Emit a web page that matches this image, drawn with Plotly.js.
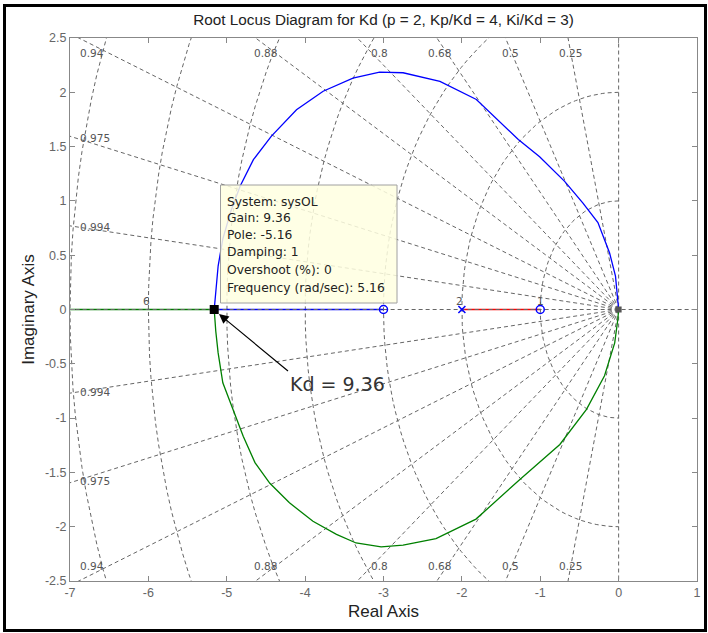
<!DOCTYPE html>
<html><head><meta charset="utf-8">
<script src="https://cdn.plot.ly/plotly-3.0.1.min.js"></script>
<style>
html,body{margin:0;padding:0;background:#fff;}
#chart{width:708px;height:633px;}
#frame{position:absolute;left:3px;top:4px;width:704px;height:628px;border:3px solid #000;box-sizing:border-box;pointer-events:none;}
</style>
</head><body><div id="chart"></div><div id="frame"></div>
<script>
// ---- data ----
const xTicks=[-7,-6,-5,-4,-3,-2,-1,0,1];
const xTickLabels=['-7','-6','-5','-4','-3','-2','-1','0','1'];
const yTicks=[-2.5,-2,-1.5,-1,-0.5,0,0.5,1,1.5,2,2.5];
const yTickLabels=['-2.5','-2','-1.5','-1','-0.5','0','0.5','1','1.5','2','2.5'];

// upper complex branch (blue), from origin to breakaway point
const upperX=[0,-0.01,-0.04,-0.115,-0.264,-0.455,-0.689,-1.008,-1.28,-1.815,-2.28,-2.75,-3.05,-3.39,-3.77,-4.11,-4.43,-4.66,-4.83,-4.95,-5.05,-5.11,-5.14,-5.16];
const upperY=[0,0.09,0.307,0.52,0.80,0.98,1.18,1.406,1.565,1.934,2.10,2.18,2.185,2.13,2.01,1.84,1.596,1.38,1.135,0.90,0.65,0.40,0.18,0];
// lower complex branch (green)
const lowerX=[0,-0.01,-0.05,-0.18,-0.41,-0.75,-1.26,-1.82,-2.33,-2.75,-3.03,-3.35,-3.60,-3.90,-4.20,-4.45,-4.64,-4.79,-4.92,-5.05,-5.11,-5.14,-5.16];
const lowerY=[0,-0.09,-0.307,-0.61,-0.92,-1.243,-1.565,-1.93,-2.11,-2.17,-2.185,-2.15,-2.07,-1.95,-1.78,-1.60,-1.41,-1.167,-0.92,-0.675,-0.40,-0.20,0];
// real-axis segments
const blueRealX=[-5.16,-3];
const greenRealX=[-5.16,-7.5];
const redRealX=[-2,-1];
const polesX=[-2];
const originPoleX=[0];
const zerosX=[-3,-1];
const gainPointX=[-5.16];
const gainPointY=[0];
const gainValue='9.36';
const tooltipLines=['System: sysOL','Gain: 9.36','Pole: -5.16','Damping: 1','Overshoot (%): 0','Frequency (rad/sec): 5.16'];

// s-grid
const zetaValues=[0.25,0.5,0.68,0.8,0.88,0.94,0.975,0.994];
const zetaEdgeLabels=['0.94','0.88','0.8','0.68','0.5','0.25'];
const zetaSideLabels=['0.975','0.994'];
const wnValues=[1,2,3,4,5,6,7];
const wnLabels=['6','2','1'];

// ---- layout helpers (pixel -> data) ----
const L=70,R=697,T=38,B=581;
const px2x=p=>-7+(p-L)/(R-L)*8;
const py2y=p=>2.5-(p-T)/(B-T)*5;

const gridColor='#666666';
const gridDash='4px,3px';
const gx=[],gy=[];
zetaValues.forEach(z=>{const s=Math.sqrt(1-z*z);gx.push(0,-20*z,null,0,-20*z,null);gy.push(0,20*s,null,0,-20*s,null);});
gx.push(0,0,null);gy.push(-5,5,null);
wnValues.forEach(w=>{for(let a=90;a<=270;a+=2){const r=a*Math.PI/180;gx.push(w*Math.cos(r));gy.push(w*Math.sin(r));}gx.push(null);gy.push(null);});

const traces=[
 {x:gx,y:gy,mode:'lines',line:{color:gridColor,width:1,dash:gridDash},hoverinfo:'skip'},
 {x:upperX,y:upperY,mode:'lines',line:{color:'#0000ff',width:1.3}},
 {x:lowerX,y:lowerY,mode:'lines',line:{color:'#008000',width:1.3}},
 {x:blueRealX,y:[0,0],mode:'lines',line:{color:'#0000ff',width:1.3}},
 {x:greenRealX,y:[0,0],mode:'lines',line:{color:'#008000',width:1.3}},
 {x:redRealX,y:[0,0],mode:'lines',line:{color:'#ff0000',width:1.3}},
 {x:[-8,2],y:[0,0],mode:'lines',line:{color:gridColor,width:1,dash:gridDash},hoverinfo:'skip'},
 {x:polesX,y:polesX.map(()=>0),mode:'markers',marker:{symbol:'x-thin-open',size:7,color:'#0000ff',line:{width:1.5}}},
 {x:originPoleX,y:[0],mode:'markers',marker:{symbol:'square',size:6,color:'#555'}},
 {x:zerosX,y:zerosX.map(()=>0),mode:'markers',marker:{symbol:'circle-open',size:8,color:'#0000ff',line:{width:1.5}}},
 {x:gainPointX,y:gainPointY,mode:'markers',marker:{symbol:'square',size:9,color:'#000'}}
];

const lblFont={family:'DejaVu Sans',size:10.5,color:'#555'};
const ann=[];
const edgeX=[-6.72,-4.5,-3.05,-2.28,-1.38,-0.62];
zetaEdgeLabels.forEach((t,i)=>{
 ann.push({x:edgeX[i],y:2.36,text:t,showarrow:false,font:lblFont,xanchor:'center',yanchor:'middle'});
 ann.push({x:edgeX[i],y:-2.36,text:t,showarrow:false,font:lblFont,xanchor:'center',yanchor:'middle'});
});
const sideY=[1.58,0.76];
zetaSideLabels.forEach((t,i)=>{
 ann.push({x:-6.9,y:sideY[i],text:t,showarrow:false,font:lblFont,xanchor:'left',yanchor:'middle'});
 ann.push({x:-6.9,y:-sideY[i],text:t,showarrow:false,font:lblFont,xanchor:'left',yanchor:'middle'});
});
const wnLabelX=[-6.03,-2.03,-1.0];
wnLabels.forEach((t,i)=>ann.push({x:wnLabelX[i],y:0.08,text:t,showarrow:false,font:lblFont,xanchor:'center',yanchor:'middle'}));
const tipY=[201.7,218.3,235,251.7,270,288];
tooltipLines.forEach((t,i)=>ann.push({x:px2x(225),y:py2y(tipY[i]),text:t,showarrow:false,xanchor:'left',yanchor:'middle',font:{family:'DejaVu Sans',size:12.3,color:'#222'}}));
ann.push({x:px2x(219),y:py2y(314),text:'Kd = '+gainValue,showarrow:true,arrowhead:2,arrowsize:1.6,arrowwidth:1.2,arrowcolor:'#000',standoff:0,
 ax:69,ay:57,xanchor:'left',yanchor:'top',font:{family:'DejaVu Sans',size:19,color:'#333'}});

const axTitleFont={family:'Liberation Sans, Arial',size:17,color:'#222'};
const tickFont={family:'Liberation Sans, Arial',size:12.5,color:'#666'};
const layout={
 width:708,height:633,margin:{l:L,r:708-R,t:T,b:633-B},
 paper_bgcolor:'#fff',plot_bgcolor:'#fff',showlegend:false,
 title:{text:'Root Locus Diagram for Kd (p = 2, Kp/Kd = 4, Ki/Kd = 3)',font:{family:'Liberation Sans, Arial',size:15.3,color:'#222'},x:0.5,xref:'paper',y:1-20/633,yref:'container',yanchor:'middle'},
 xaxis:{range:[-7,1],tickvals:xTicks,ticktext:xTickLabels,ticks:'inside',ticklen:5,tickcolor:'#888',showline:true,linecolor:'#888',mirror:'ticks',showgrid:false,zeroline:false,
  tickfont:tickFont,title:{text:'Real Axis',font:axTitleFont,standoff:6},automargin:false,fixedrange:true},
 yaxis:{range:[-2.5,2.5],tickvals:yTicks,ticktext:yTickLabels,ticks:'inside',ticklen:5,tickcolor:'#888',showline:true,linecolor:'#888',mirror:'ticks',showgrid:false,zeroline:false,
  tickfont:tickFont,title:{text:'Imaginary Axis',font:axTitleFont,standoff:6},automargin:false,fixedrange:true},
 shapes:[{type:'rect',xref:'x',yref:'y',x0:px2x(220.5),x1:px2x(397),y0:py2y(185),y1:py2y(303),line:{color:'#a0a0a0',width:1},fillcolor:'rgba(255,255,225,0.85)',layer:'above'}],
 annotations:ann
};
Plotly.newPlot('chart',traces,layout,{staticPlot:true,displayModeBar:false});
</script>
</body></html>
